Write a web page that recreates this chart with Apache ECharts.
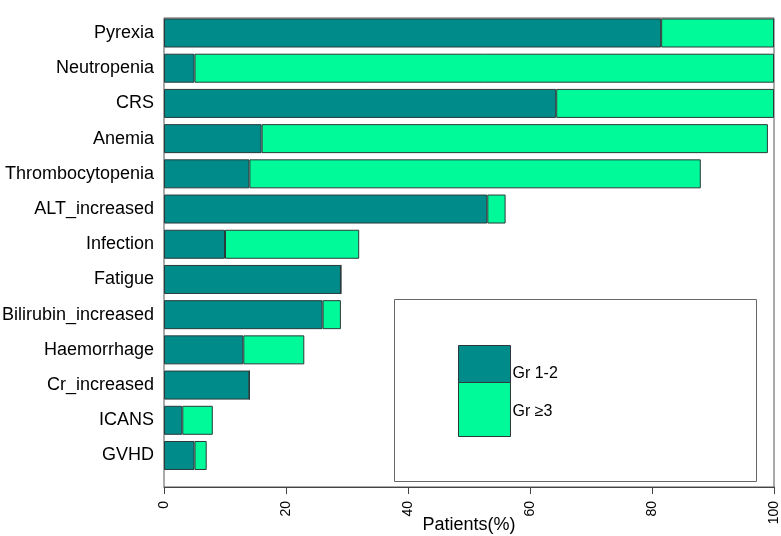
<!DOCTYPE html>
<html>
<head>
<meta charset="utf-8">
<script src="https://cdn.jsdelivr.net/npm/echarts@6/dist/echarts.min.js"></script>
<style>
html,body{margin:0;padding:0;background:#fff;}
#c{width:781px;height:536px;}
</style>
</head>
<body>
<div id="c"></div>
<script>
const categories = ["Pyrexia","Neutropenia","CRS","Anemia","Thrombocytopenia","ALT_increased","Infection","Fatigue","Bilirubin_increased","Haemorrhage","Cr_increased","ICANS","GVHD"];
const grade12 = [81.5, 5, 64.3, 16, 14, 53, 10, 29, 26, 13, 14, 3, 5];
const grade3 = [18.5, 95, 35.7, 83, 74, 3, 22, 0, 3, 10, 0, 5, 2];
const xTicks = [0, 20, 40, 60, 80, 100];
const seriesNames = ["Gr 1-2", "Gr \u22653"];

const FONT = "Liberation Sans, Arial, sans-serif";
const chart = echarts.init(document.getElementById('c'), null, {renderer: 'canvas'});
function legendText(padTop) {
  return {
    fontSize: 16, color: '#000', fontFamily: FONT,
    rich: {a: {fontSize: 16, color: '#000', fontFamily: FONT, padding: [padTop, 0, 0, -3]}}
  };
}
const option = {
  animation: false,
  backgroundColor: '#fff',
  textStyle: {fontFamily: FONT},
  grid: [
    {left: 164, right: 7, top: 15.4, bottom: 62.9, outerBoundsMode: 'none', containLabel: false},
    {left: 164, right: 7, top: 18, bottom: 49, outerBoundsMode: 'none', containLabel: false,
     show: true, borderColor: '#555', borderWidth: 1, backgroundColor: 'transparent'}
  ],
  xAxis: [
    {gridIndex: 0, type: 'value', min: 0, max: 100, show: false},
    {gridIndex: 1, type: 'value', min: xTicks[0], max: xTicks[xTicks.length-1], interval: 20,
     axisLine: {show: true, onZero: false, lineStyle: {color: '#444'}},
     axisTick: {show: true, length: 7, lineStyle: {color: '#444'}},
     splitLine: {show: false},
     axisLabel: {rotate: 90, fontSize: 14, color: '#000', margin: 14, fontFamily: FONT},
     name: 'Patients(%)', nameLocation: 'middle', nameGap: 29, nameMoveOverlap: false,
     nameTextStyle: {fontSize: 18, color: '#000', fontFamily: FONT}}
  ],
  yAxis: [
    {gridIndex: 0, type: 'category', inverse: true, data: categories,
     axisLine: {show: false}, axisTick: {show: false},
     axisLabel: {fontSize: 18, color: '#000', margin: 10, fontFamily: FONT}},
    {gridIndex: 1, type: 'value', show: false, min: 0, max: 1}
  ],
  legend: [
    {orient: 'vertical', left: 458, top: 345, padding: 0,
     itemWidth: 52, itemHeight: 37, itemGap: 0, icon: 'rect',
     itemStyle: {borderWidth: 1, borderColor: '#2a3a3a'},
     formatter: n => '{a|' + n + '}',
     textStyle: legendText(19),
     data: [seriesNames[0]]},
    {orient: 'vertical', left: 458, top: 382, padding: 0,
     itemWidth: 52, itemHeight: 54, itemGap: 0, icon: 'rect',
     itemStyle: {borderWidth: 1, borderColor: '#2a3a3a'},
     formatter: n => '{a|' + n + '}',
     textStyle: legendText(4),
     data: [seriesNames[1]]}
  ],
  series: [
    {name: seriesNames[0], type: 'bar', stack: 'g', xAxisIndex: 0, yAxisIndex: 0, barWidth: 29,
     data: grade12, itemStyle: {color: '#008B8B', borderColor: '#2a3a3a', borderWidth: 1}},
    {name: seriesNames[1], type: 'bar', stack: 'g', xAxisIndex: 0, yAxisIndex: 0, barWidth: 29,
     data: grade3, itemStyle: {color: '#00FA9A', borderColor: '#2a3a3a', borderWidth: 1}}
  ],
  graphic: [
    {type: 'rect', shape: {x: 394.5, y: 299.5, width: 362, height: 182}, style: {fill: 'none', stroke: '#666', lineWidth: 1}, z: 0}
  ]
};
chart.setOption(option);
</script>
</body>
</html>
